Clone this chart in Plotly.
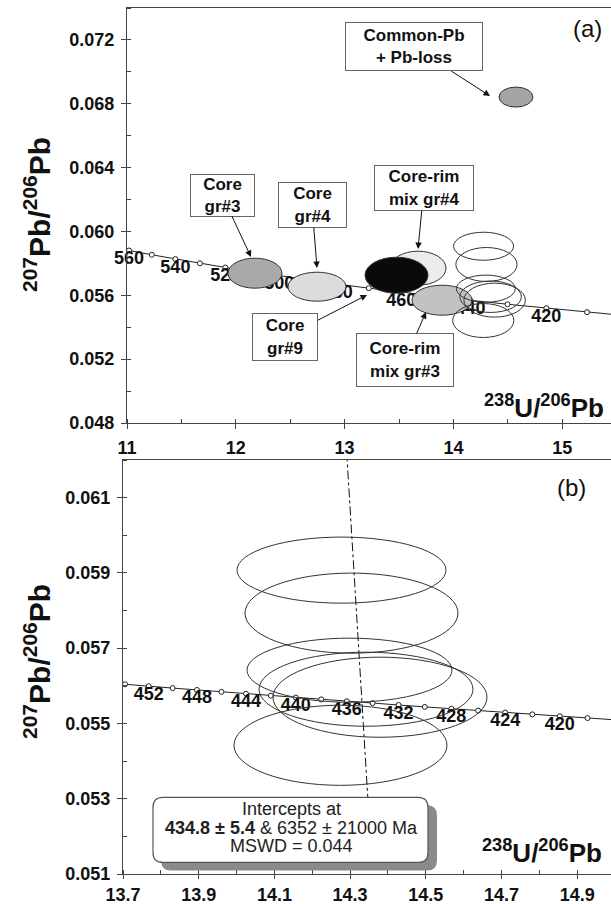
import plotly.graph_objects as go

W, H = 611, 904
FONT = "Liberation Sans, Arial, sans-serif"

# ---------------- data ----------------
# Concordia (Tera-Wasserburg), panel (a): ages (Ma), 238U/206Pb, 207Pb/206Pb
ages_a = [400, 410, 420, 430, 440, 450, 460, 470, 480, 490, 500, 510, 520, 530, 540, 550, 560, 570]
u238_a = [15.6212, 15.2283, 14.8540, 14.4972, 14.1566, 13.8312, 13.5199, 13.2219, 12.9362,
          12.6623, 12.3993, 12.1466, 11.9037, 11.6699, 11.4448, 11.2279, 11.0187, 10.8169]
pb207_a = [0.054701, 0.054945, 0.055192, 0.055440, 0.055689, 0.055940, 0.056193, 0.056448, 0.056703,
           0.056961, 0.057220, 0.057481, 0.057742, 0.058006, 0.058272, 0.058539, 0.058808, 0.059079]
label_ages_a = [560, 540, 520, 500, 480, 460, 440, 420]

# Concordia, panel (b)
ages_b = [414, 416, 418, 420, 422, 424, 426, 428, 430, 432, 434, 436, 438, 440, 442, 444, 446, 448, 450, 452, 454, 456]
u238_b = [15.0765, 15.0016, 14.9275, 14.8540, 14.7815, 14.7097, 14.6383, 14.5675, 14.4972, 14.4281, 14.3595,
          14.2913, 14.2237, 14.1566, 14.0906, 14.0250, 13.9600, 13.8954, 13.8312, 13.7680, 13.7054, 13.6431]
pb207_b = [0.055044, 0.055093, 0.055143, 0.055192, 0.055242, 0.055291, 0.055341, 0.055390, 0.055440, 0.055490, 0.055540,
           0.055589, 0.055639, 0.055689, 0.055739, 0.055789, 0.055840, 0.055890, 0.055940, 0.055991, 0.056041, 0.056092]
label_ages_b = [452, 448, 444, 440, 436, 432, 428, 424, 420]

# Grouped (filled) analyses, panel (a): centre and half-widths
group_names = ["Core gr#3", "Core gr#4", "Core-rim mix gr#4", "Core gr#9", "Core-rim mix gr#3", "Common-Pb + Pb-loss"]
group_cx = [12.176, 12.746, 13.675, 13.477, 13.895, 14.575]
group_cy = [0.057386, 0.056539, 0.057699, 0.057260, 0.055693, 0.068420]
group_sx = [0.248, 0.2665, 0.257, 0.2895, 0.2757, 0.156]
group_sy = [0.00094, 0.000909, 0.001066, 0.001129, 0.00094, 0.000627]
group_fill = ["#a9a9a9", "#dcdcdc", "#ececec", "#0a0a0a", "#c2c2c2", "#a4a4a4"]

# Individual rim analyses (open ellipses), shown in both panels
spot_cx = [14.2773, 14.3037, 14.2984, 14.342, 14.379, 14.2746]
spot_cy = [0.059074, 0.057931, 0.056415, 0.055910, 0.055697, 0.054420]
spot_sx = [0.2761, 0.2814, 0.2708, 0.2827, 0.2827, 0.2814]
spot_sy = [0.000878, 0.001064, 0.000851, 0.000984, 0.001064, 0.001064]

# Discordia (regression) line, panel (b)
disc_x = [14.291, 14.350]
disc_y = [0.0622, 0.0525]

# ---------------- figure ----------------
fig = go.Figure()

def conc(xs, ys, xa, ya):
    fig.add_trace(go.Scatter(x=xs, y=ys, xaxis=xa, yaxis=ya, mode="lines+markers",
                             line=dict(color="#222", width=1),
                             marker=dict(symbol="circle", size=5, color="white",
                                         line=dict(color="#222", width=1)),
                             hoverinfo="skip", showlegend=False, cliponaxis=True))

def conc_labels(ages, xs, ys, lab, xa, ya):
    lx = [xs[ages.index(a)] for a in lab]
    ly = [ys[ages.index(a)] for a in lab]
    fig.add_trace(go.Scatter(x=lx, y=ly, xaxis=xa, yaxis=ya, mode="text",
                             text=[str(a) for a in lab], textposition="bottom center",
                             marker=dict(size=8), cliponaxis=False,
                             textfont=dict(family=FONT, size=18, color="#111", weight="bold"),
                             hoverinfo="skip", showlegend=False))

conc(u238_a, pb207_a, "x", "y")
conc_labels(ages_a, u238_a, pb207_a, label_ages_a, "x", "y")
conc(u238_b, pb207_b, "x2", "y2")
conc_labels(ages_b, u238_b, pb207_b, label_ages_b, "x2", "y2")

fig.add_trace(go.Scatter(x=disc_x, y=disc_y, xaxis="x2", yaxis="y2", mode="lines",
                         line=dict(color="#111", width=1, dash="dashdot"),
                         hoverinfo="skip", showlegend=False))

shapes = []
for cx, cy, sx, sy, fc in zip(group_cx, group_cy, group_sx, group_sy, group_fill):
    shapes.append(dict(type="circle", xref="x", yref="y", x0=cx - sx, x1=cx + sx, y0=cy - sy, y1=cy + sy,
                       fillcolor=fc, line=dict(color="#333", width=1), layer="above"))
for xr, yr in (("x", "y"), ("x2", "y2")):
    for cx, cy, sx, sy in zip(spot_cx, spot_cy, spot_sx, spot_sy):
        shapes.append(dict(type="circle", xref=xr, yref=yr, x0=cx - sx, x1=cx + sx, y0=cy - sy, y1=cy + sy,
                           fillcolor="rgba(0,0,0,0)", line=dict(color="#333", width=1), layer="above"))

# result box in panel (b) (pixel geometry -> data coords of panel b)
def bx(px):
    return 13.7 + (px - 123) / 378.5
def by(py):
    return 0.062 - (py - 460) / 37600.0

def rounded(x0p, y0p, x1p, y1p, r):
    x0, x1 = bx(x0p), bx(x1p)
    yt, yb = by(y0p), by(y1p)
    rx, ry = r / 378.5, r / 37600.0
    return (f"M {x0+rx},{yt} L {x1-rx},{yt} Q {x1},{yt} {x1},{yt-ry} L {x1},{yb+ry} "
            f"Q {x1},{yb} {x1-rx},{yb} L {x0+rx},{yb} Q {x0},{yb} {x0},{yb+ry} "
            f"L {x0},{yt-ry} Q {x0},{yt} {x0+rx},{yt} Z")

shapes.append(dict(type="path", xref="x2", yref="y2", path=rounded(161, 805, 437, 870, 10),
                   fillcolor="#8a8a8a", line=dict(width=0), layer="above"))
shapes.append(dict(type="path", xref="x2", yref="y2", path=rounded(153, 797, 428, 862, 10),
                   fillcolor="white", line=dict(color="#555", width=1.2), layer="above"))

def P(px, py):
    return px / W, 1 - py / H

ann = []
def text(px, py, t, size, bold=False, angle=0, xanchor="center", color="#111"):
    x, y = P(px, py)
    ann.append(dict(x=x, y=y, xref="paper", yref="paper", text=t, showarrow=False, textangle=angle,
                    xanchor=xanchor, yanchor="middle",
                    font=dict(family=FONT, size=size, color=color, weight="bold" if bold else "normal")))

# callout labels in panel (a): (text, tip px, box centre px, box w, h)
callouts = [
    ("Core<br>gr#3", (251, 257), (222, 195), 65, 43),
    ("Core<br>gr#4", (317, 268), (312, 205), 69, 46),
    ("Core-rim<br>mix gr#4", (418, 249), (424, 188), 100, 46),
    ("Common-Pb<br>+ Pb-loss", (490, 96), (414, 47), 138, 49),
    ("Core<br>gr#9", (367, 295), (285, 337), 66, 48),
    ("Core-rim<br>mix gr#3", (426, 312), (405, 360), 98, 54),
]
for t, tip, ctr, w, h in callouts:
    x, y = P(*tip)
    ann.append(dict(x=x, y=y, xref="paper", yref="paper", text=t, showarrow=True,
                    ax=ctr[0] - tip[0], ay=ctr[1] - tip[1], arrowhead=2, arrowsize=1.3, arrowwidth=1,
                    arrowcolor="#111", bgcolor="white", bordercolor="#666", borderwidth=1, borderpad=1,
                    width=w - 4, height=h - 4,
                    font=dict(family=FONT, size=17, color="#111", weight="bold")))

text(587, 28, "(a)", 24)
text(571, 488, "(b)", 24)
ytitle = "<sup>207</sup>Pb/<sup>206</sup>Pb"
xtitle = "<sup>238</sup>U/<sup>206</sup>Pb"
text(37, 215, ytitle, 30, bold=True, angle=-90)
text(37, 662, ytitle, 30, bold=True, angle=-90)
text(606, 406, xtitle, 26, bold=True, xanchor="right")
text(604, 851, xtitle, 26, bold=True, xanchor="right")
text(291, 809, "Intercepts at", 18, color="#222")
text(291, 828, "<b>434.8 ± 5.4</b> &amp; 6352 ± 21000 Ma", 18, color="#222")
text(291, 846, "MSWD = 0.044", 18, color="#222")

tickfont = dict(family=FONT, size=18, color="#111", weight="bold")
axcommon = dict(showline=True, linecolor="#444", linewidth=1.3, mirror=True, ticks="outside",
                tickwidth=1.2, tickcolor="#444", showgrid=False, zeroline=False,
                tickfont=tickfont, automargin=False, fixedrange=True)

fig.update_layout(
    width=W, height=H, margin=dict(l=0, r=0, t=0, b=0),
    paper_bgcolor="white", plot_bgcolor="white", showlegend=False,
    xaxis=dict(domain=[127 / W, 1], range=[11, 11 + 484 / 108.8], anchor="y", tick0=11, dtick=1,
               ticklen=5, ticklabelstandoff=3,
               minor=dict(dtick=0.5, ticks="inside", ticklen=4, tickcolor="#444"), **axcommon),
    yaxis=dict(domain=[1 - 423 / H, 1 - 8 / H], range=[0.048, 0.074], anchor="x", tick0=0.048, dtick=0.004,
               ticklen=5, ticklabelstandoff=3,
               tickformat=".3f", minor=dict(dtick=0.002, ticks="inside", ticklen=4, tickcolor="#444"), **axcommon),
    xaxis2=dict(domain=[123 / W, 1], range=[13.7, 13.7 + 488 / 378.5], anchor="y2", tick0=13.7, dtick=0.2,
                ticklen=4, ticklabelstandoff=0,
                tickformat=".1f", minor=dict(dtick=0.1, ticks="inside", ticklen=4, tickcolor="#444"), **axcommon),
    yaxis2=dict(domain=[1 - 874 / H, 1 - 460 / H], range=[0.051, 0.062], anchor="x2", tick0=0.051, dtick=0.002,
                ticklen=5, ticklabelstandoff=3,
                tickformat=".3f", minor=dict(dtick=0.001, ticks="inside", ticklen=4, tickcolor="#444"), **axcommon),
    shapes=shapes, annotations=ann,
)

fig.write_html("out.html")
